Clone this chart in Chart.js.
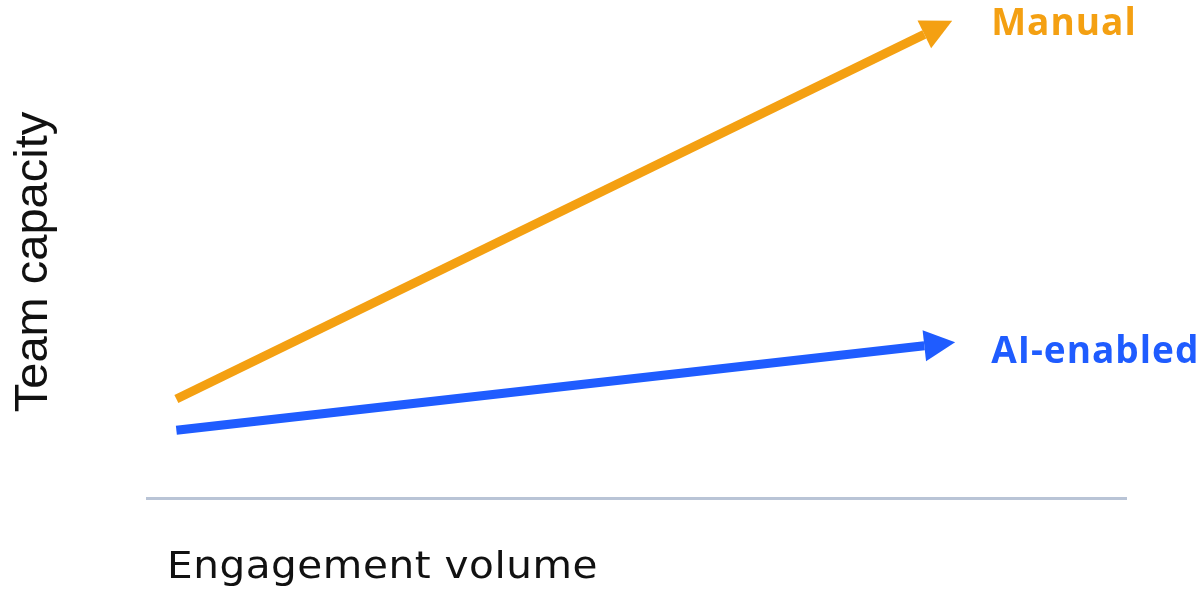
<!DOCTYPE html>
<html lang="en">
<head>
    <meta charset="UTF-8">
    <title>Team capacity vs engagement volume</title>
    <script src="https://cdn.jsdelivr.net/npm/chart.js"></script>
    <style>
        body { margin: 0; padding: 0; background: #fff; }
        .chart-container { width: 1201px; height: 592px; }
    </style>
</head>
<body>
    <div class="chart-container">
        <canvas id="capacity-chart"></canvas>
    </div>

    <script>
        // Engagement volume (x) at the start and end of each line
        const volume = [3, 79.4];
        const manualCapacity = [20.3, 95];
        const aiCapacity = [13.9, 31.2];
        const seriesNames = ['Manual', 'AI-enabled'];
        const xTitle = 'Engagement volume';
        const yTitle = 'Team capacity';

        const ORANGE = '#F4A012';
        const BLUE = '#1F5CFF';

        const toPoints = ys => ys.map((y, i) => ({ x: volume[i], y: y }));

        // Arrow heads, series names at the tips, and axis titles
        const arrowPlugin = {
            id: 'arrows',
            afterDatasetsDraw(chart) {
                const ctx = chart.ctx;
                const labelOffsets = [{ dx: 39, dy: 4 }, { dx: 36, dy: 10 }];
                chart.data.datasets.forEach((ds, i) => {
                    const pts = chart.getDatasetMeta(i).data;
                    const a = pts[pts.length - 2], b = pts[pts.length - 1];
                    const len = Math.hypot(b.x - a.x, b.y - a.y);
                    const ux = (b.x - a.x) / len, uy = (b.y - a.y) / len;
                    const headLen = 31, half = 15.5;
                    const tipX = b.x + ux * headLen, tipY = b.y + uy * headLen;
                    ctx.save();
                    ctx.fillStyle = ds.borderColor;
                    ctx.beginPath();
                    ctx.moveTo(tipX, tipY);
                    ctx.lineTo(b.x - uy * half, b.y + ux * half);
                    ctx.lineTo(b.x + uy * half, b.y - ux * half);
                    ctx.closePath();
                    ctx.fill();

                    ctx.font = 'bold 37px "Open Sans", Inter, sans-serif';
                    ctx.letterSpacing = '1px';
                    ctx.textBaseline = 'middle';
                    ctx.textAlign = 'left';
                    ctx.fillText(ds.label, tipX + labelOffsets[i].dx, tipY + labelOffsets[i].dy);
                    ctx.restore();
                });

                // x title: a wide sans, stretched a little to the original's width
                ctx.save();
                ctx.fillStyle = '#111';
                ctx.font = '38px "DejaVu Sans", sans-serif';
                ctx.letterSpacing = '0.5px';
                ctx.textBaseline = 'alphabetic';
                ctx.textAlign = 'left';
                const w = ctx.measureText(xTitle).width;
                ctx.translate(167, 578);
                ctx.scale(Math.max(1, 431 / w), 1);
                ctx.fillText(xTitle, 0, 0);
                ctx.restore();

                ctx.save();
                ctx.fillStyle = '#111';
                ctx.font = '47px "Liberation Sans", Arial, sans-serif';
                ctx.translate(47, 262);
                ctx.rotate(-Math.PI / 2);
                ctx.textAlign = 'center';
                ctx.fillText(yTitle, 0, 0);
                ctx.restore();
            }
        };

        new Chart(document.getElementById('capacity-chart'), {
            type: 'line',
            data: {
                datasets: [
                    {
                        label: seriesNames[0],
                        data: toPoints(manualCapacity),
                        borderColor: ORANGE,
                        backgroundColor: ORANGE,
                        borderWidth: 9,
                        borderCapStyle: 'butt',
                        pointRadius: 0
                    },
                    {
                        label: seriesNames[1],
                        data: toPoints(aiCapacity),
                        borderColor: BLUE,
                        backgroundColor: BLUE,
                        borderWidth: 9,
                        borderCapStyle: 'butt',
                        pointRadius: 0
                    }
                ]
            },
            options: {
                responsive: true,
                maintainAspectRatio: false,
                animation: false,
                layout: { padding: { left: 147, right: 75, top: 10, bottom: 86 } },
                plugins: { legend: { display: false }, tooltip: { enabled: false } },
                scales: {
                    x: {
                        type: 'linear', min: 0, max: 100,
                        ticks: { display: false },
                        grid: { display: false },
                        border: { display: true, color: '#B9C4D6', width: 3 }
                    },
                    y: {
                        min: 0, max: 100,
                        display: false
                    }
                }
            },
            plugins: [arrowPlugin]
        });
    </script>
</body>
</html>
